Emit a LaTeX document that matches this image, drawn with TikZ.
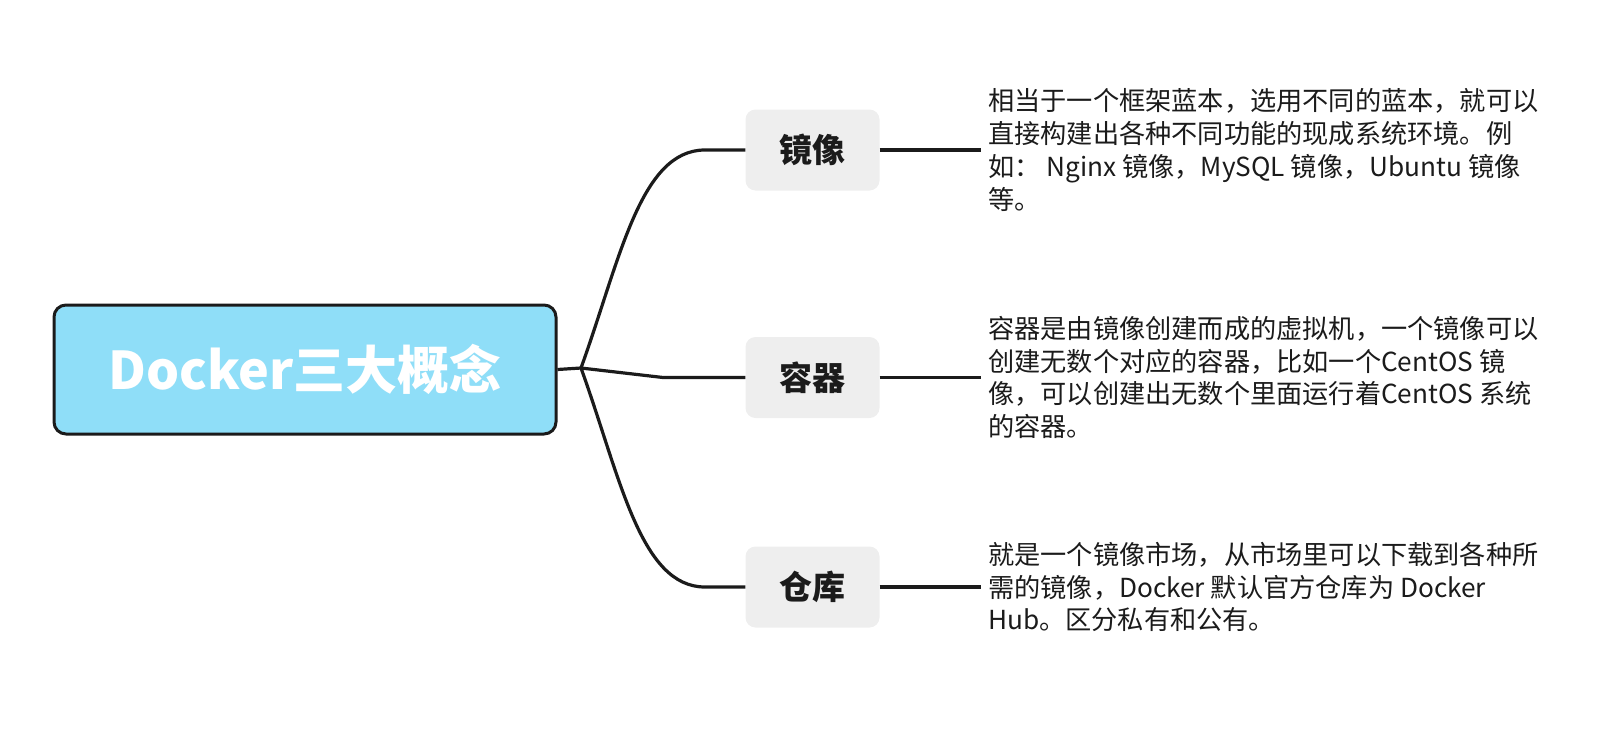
\documentclass[tikz,border=0pt]{standalone}
\usepackage{fontspec}
\setmainfont{Noto Sans CJK SC}
\definecolor{rootfill}{HTML}{8FDEF8}
\definecolor{boxgray}{HTML}{EEEEEE}
\definecolor{ink}{HTML}{1B1B1B}
\begin{document}
\begin{tikzpicture}[x=1pt,y=-1pt,
  rootbox/.style={draw=ink,line width=3pt,fill=rootfill,rounded corners=12pt,
    minimum width=502pt,minimum height=129pt,inner sep=0pt,
    text=white,font=\fontsize{52}{58}\selectfont\bfseries},
  childbox/.style={fill=boxgray,rounded corners=10pt,minimum width=134pt,
    minimum height=81pt,inner sep=0pt,text=ink,font=\fontsize{33}{37}\selectfont\bfseries},
  desc/.style={anchor=west,align=left,inner xsep=7pt,inner ysep=0pt,text=ink,
    font=\fontsize{26.2}{32.7}\selectfont},
  link/.style={draw=ink,line width=3.2pt}]
\useasboundingbox (0,0) rectangle (1608,747);
\node[rootbox] (root) at (305,369.5) {Docker三大概念};
\node[childbox] (c1) at (812.5,150) {镜像};
\node[childbox] (c2) at (812.5,377.5) {容器};
\node[childbox] (c3) at (812.5,587) {仓库};
\coordinate (J) at (581,368);
\coordinate (e1) at (981,150);
\coordinate (e2) at (981,377.5);
\coordinate (e3) at (981,587);
\draw[link] (root.east) -- (J);
\draw[link] (J) .. controls (620,260) and (640,150) .. (705,150) -- (c1.west);
\draw[link] (J) -- (663,377.5) -- (c2.west);
\draw[link] (J) .. controls (620,476) and (640,587) .. (705,587) -- (c3.west);
\draw[link] (c1.east) -- (e1);
\draw[link] (c2.east) -- (e2);
\draw[link] (c3.east) -- (e3);
\node[desc] (d1) at (e1) {相当于一个框架蓝本，选用不同的蓝本，就可以\\直接构建出各种不同功能的现成系统环境。例\\如： Nginx 镜像，MySQL 镜像，Ubuntu 镜像\\等。};
\node[desc] (d2) at (e2) {容器是由镜像创建而成的虚拟机，一个镜像可以\\创建无数个对应的容器，比如一个CentOS 镜\\像，可以创建出无数个里面运行着CentOS 系统\\的容器。};
\node[desc] (d3) at (e3) {就是一个镜像市场，从市场里可以下载到各种所\\需的镜像，Docker 默认官方仓库为 Docker\\Hub。区分私有和公有。};
\end{tikzpicture}
\end{document}
